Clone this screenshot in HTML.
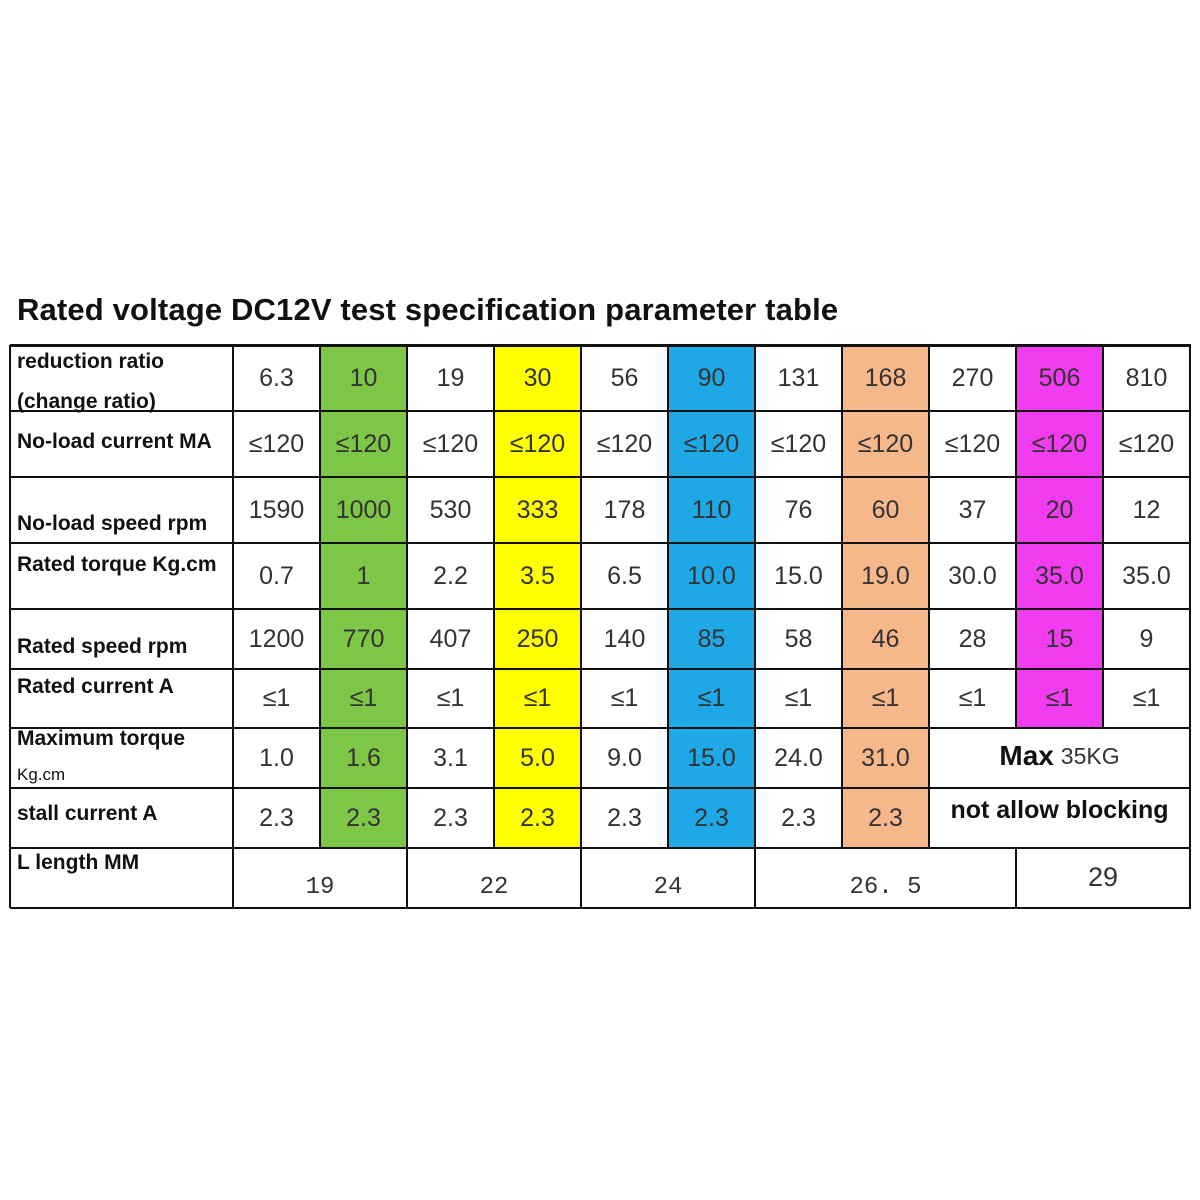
<!DOCTYPE html><html><head><meta charset="utf-8"><style>
body{margin:0;width:1200px;height:1200px;background:#fff;position:relative;overflow:hidden;font-family:"Liberation Sans",sans-serif}
div{position:absolute}
.c{display:flex;align-items:center;justify-content:center;font-size:25px;color:#333}
.l{font-size:21px;font-weight:bold;color:#111;left:17px;white-space:nowrap}
.h{background:#111}
</style></head><body>
<div style="left:17px;top:292px;font-size:31px;font-weight:bold;color:#111;letter-spacing:0.15px">Rated voltage DC12V test specification parameter table</div>
<div style="left:320px;top:345px;width:87px;height:503px;background:#7dc646"></div>
<div style="left:494px;top:345px;width:87px;height:503px;background:#ffff00"></div>
<div style="left:668px;top:345px;width:87px;height:503px;background:#1ea8e6"></div>
<div style="left:842px;top:345px;width:87px;height:503px;background:#f6b78a"></div>
<div style="left:1016px;top:345px;width:87px;height:383px;background:#f23cf0"></div>
<div class="h" style="left:10px;top:344px;width:1181px;height:3px"></div>
<div class="h" style="left:10px;top:410px;width:1181px;height:2px"></div>
<div class="h" style="left:10px;top:476px;width:1181px;height:2px"></div>
<div class="h" style="left:10px;top:542px;width:1181px;height:2px"></div>
<div class="h" style="left:10px;top:608px;width:1181px;height:2px"></div>
<div class="h" style="left:10px;top:668px;width:1181px;height:2px"></div>
<div class="h" style="left:10px;top:727px;width:1181px;height:2px"></div>
<div class="h" style="left:10px;top:787px;width:1181px;height:2px"></div>
<div class="h" style="left:10px;top:847px;width:1181px;height:2px"></div>
<div class="h" style="left:10px;top:907px;width:1181px;height:2px"></div>
<div class="h" style="left:9px;top:345px;width:2px;height:563px"></div>
<div class="h" style="left:232px;top:345px;width:2px;height:563px"></div>
<div class="h" style="left:1189px;top:345px;width:2px;height:563px"></div>
<div class="h" style="left:406px;top:345px;width:2px;height:563px"></div>
<div class="h" style="left:580px;top:345px;width:2px;height:563px"></div>
<div class="h" style="left:754px;top:345px;width:2px;height:563px"></div>
<div class="h" style="left:1015px;top:848px;width:2px;height:60px"></div>
<div class="h" style="left:319px;top:345px;width:2px;height:503px"></div>
<div class="h" style="left:493px;top:345px;width:2px;height:503px"></div>
<div class="h" style="left:667px;top:345px;width:2px;height:503px"></div>
<div class="h" style="left:841px;top:345px;width:2px;height:503px"></div>
<div class="h" style="left:928px;top:345px;width:2px;height:503px"></div>
<div class="h" style="left:1015px;top:345px;width:2px;height:383px"></div>
<div class="h" style="left:1102px;top:345px;width:2px;height:383px"></div>
<div class="l" style="top:350px">reduction ratio</div>
<div class="l" style="top:390px">(change ratio)</div>
<div class="l" style="top:430px">No-load current MA</div>
<div class="l" style="top:512px">No-load speed rpm</div>
<div class="l" style="top:553px">Rated torque Kg.cm</div>
<div class="l" style="top:635px">Rated speed rpm</div>
<div class="l" style="top:675px">Rated current A</div>
<div class="l" style="top:727px">Maximum torque</div>
<div class="l" style="top:765px;font-size:17px;font-weight:normal">Kg.cm</div>
<div class="l" style="top:802px">stall current A</div>
<div class="l" style="top:851px">L length MM</div>
<div id="g"></div>
<script>
var xs=[233,320,407,494,581,668,755,842,929,1016,1103,1190];
var ys=[345,411,477,543,609,669,728,788,848];
var d=[
["6.3","10","19","30","56","90","131","168","270","506","810"],
["≤120","≤120","≤120","≤120","≤120","≤120","≤120","≤120","≤120","≤120","≤120"],
["1590","1000","530","333","178","110","76","60","37","20","12"],
["0.7","1","2.2","3.5","6.5","10.0","15.0","19.0","30.0","35.0","35.0"],
["1200","770","407","250","140","85","58","46","28","15","9"],
["≤1","≤1","≤1","≤1","≤1","≤1","≤1","≤1","≤1","≤1","≤1"],
["1.0","1.6","3.1","5.0","9.0","15.0","24.0","31.0"],
["2.3","2.3","2.3","2.3","2.3","2.3","2.3","2.3"]];
var h="";
for(var r=0;r<d.length;r++)for(var c=0;c<d[r].length;c++){
h+='<div class="c" style="left:'+xs[c]+'px;top:'+ys[r]+'px;width:'+(xs[c+1]-xs[c])+'px;height:'+(ys[r+1]-ys[r])+'px">'+d[r][c]+'</div>';}
h+='<div class="c" style="left:929px;top:728px;width:261px;height:56px"><b style="font-size:28px;color:#111">Max</b>&nbsp;<span style="font-size:23px">35KG</span></div>';
h+='<div class="c" style="left:929px;top:788px;width:261px;height:44px;font-weight:bold;color:#111;font-size:25px">not allow blocking</div>';
var b=[[233,407,"19"],[407,581,"22"],[581,755,"24"],[755,1016,"26. 5"]];
b.forEach(function(e){h+='<div class="c" style="left:'+e[0]+'px;top:862px;width:'+(e[1]-e[0])+'px;height:50px;font-family:\'Liberation Mono\',monospace;font-size:24px">'+e[2]+'</div>';});
h+='<div class="c" style="left:1016px;top:852px;width:174px;height:50px;font-size:27px">29</div>';
document.getElementById("g").innerHTML=h;
</script>
</body></html>
